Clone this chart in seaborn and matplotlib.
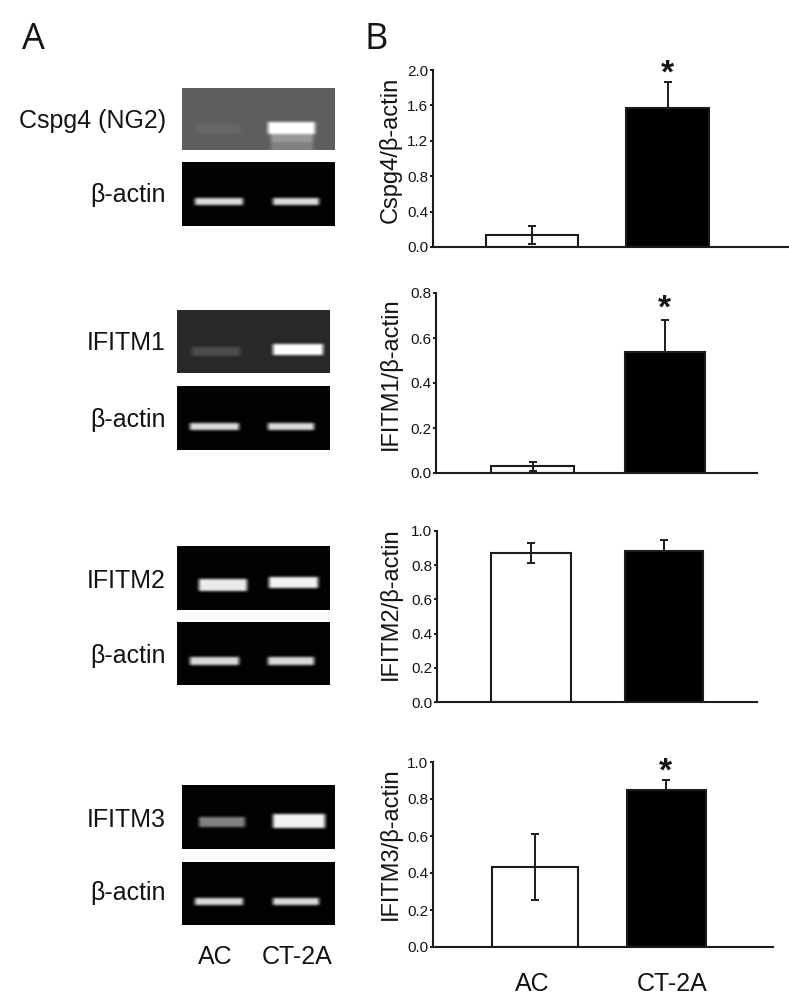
import numpy as np
import pandas as pd
import matplotlib
matplotlib.use("Agg")
import matplotlib.pyplot as plt
import seaborn as sns

W, H = 789, 1008

# bar panels, values
groups = ["AC", "CT-2A"]
panel_names = ["Cspg4/β-actin", "IFITM1/β-actin", "IFITM2/β-actin", "IFITM3/β-actin"]
mean_ac = [0.136, 0.033, 0.874, 0.432]
mean_ct = [1.566, 0.536, 0.882, 0.847]
err_low_ac = [0.03, 0.01, 0.81, 0.252]
err_high_ac = [0.234, 0.05, 0.93, 0.613]
err_high_ct = [1.864, 0.679, 0.95, 0.905]
y_max = [2.0, 0.8, 1.0, 1.0]
y_ticks = [
    [0.0, 0.4, 0.8, 1.2, 1.6, 2.0],
    [0.0, 0.2, 0.4, 0.6, 0.8],
    [0.0, 0.2, 0.4, 0.6, 0.8, 1.0],
    [0.0, 0.2, 0.4, 0.6, 0.8, 1.0],
]

# gel brightness (0 black, 1 white), estimated by eye
gel_names = ["Cspg4 (NG2)", "β-actin", "IFITM1", "β-actin", "IFITM2", "β-actin", "IFITM3", "β-actin"]
gel_background = [0.37, 0.01, 0.16, 0.01, 0.01, 0.01, 0.01, 0.01]
gel_ac_level = [0.41, 0.85, 0.30, 0.85, 0.92, 0.85, 0.50, 0.85]
gel_ct_level = [1.0, 0.85, 1.0, 0.85, 0.95, 0.85, 0.95, 0.85]

# layout in pixels of the reference
panel_boxes = [  # left, top, right, bottom
    (433, 70, 788, 247),
    (436, 293, 757, 473),
    (437, 531, 757, 702),
    (433, 762, 773, 947),
]
bar_edges = [  # white left/right, black left/right
    (486, 578, 626, 709),
    (491, 574, 625, 705),
    (491, 571, 625, 703),
    (492, 578, 627, 706),
]
gel_boxes = [
    (182, 88, 335, 150),
    (182, 162, 335, 226),
    (177, 310, 330, 373),
    (177, 386, 330, 450),
    (177, 546, 330, 610),
    (177, 622, 330, 685),
    (182, 785, 335, 849),
    (182, 862, 335, 925),
]
ac_boxes = [
    (197, 125, 240, 133),
    (195, 198, 243, 205),
    (192, 347, 240, 356),
    (190, 423, 239, 430),
    (199, 579, 247, 591),
    (190, 657, 239, 665),
    (199, 817, 245, 827),
    (195, 898, 243, 905),
]
ct_boxes = [
    (268, 122, 315, 134),
    (273, 198, 319, 205),
    (273, 344, 323, 355),
    (268, 423, 314, 430),
    (269, 577, 318, 588),
    (268, 657, 314, 665),
    (273, 814, 325, 828),
    (273, 898, 319, 905),
]
gel_label_y = [121, 195, 343, 420, 581, 656, 820, 893]
ylabel_y = [150, 374, 604, 844]
star_xy = [(667, 65), (664, 300), None, (665, 763)]

sns.set_theme(style="ticks")
plt.rcParams["font.family"] = ["Liberation Sans", "DejaVu Sans"]
text_color = "#141414"


def px_axes(fig, box):
    left, top, right, bottom = box
    return fig.add_axes([left / W, 1 - bottom / H, (right - left) / W, (bottom - top) / H])


def px_text(fig, x, y, s, **kw):
    fig.text(x / W, 1 - y / H, s, color=text_color, **kw)


def soften(grid):
    # the gel photos are blurry, so spread each band a little
    across = np.array([1, 2, 3, 3, 3, 2, 1]) / 15
    down = np.array([1, 2, 3, 2, 1]) / 9
    pad = np.pad(grid, 3, mode="edge")
    pad = np.apply_along_axis(lambda r: np.convolve(r, down, mode="same"), 0, pad)
    pad = np.apply_along_axis(lambda r: np.convolve(r, across, mode="same"), 1, pad)
    return pad[3:-3, 3:-3]


def draw_gel(fig, i):
    box = gel_boxes[i]
    left, top, right, bottom = box
    grid = np.full((bottom - top, right - left), gel_background[i])
    for band, level in ((ac_boxes[i], gel_ac_level[i]), (ct_boxes[i], gel_ct_level[i])):
        x0, y0, x1, y1 = band
        grid[y0 - top:y1 - top, x0 - left:x1 - left] = level
    if i == 0:
        # haze under the strong NG2 band
        grid[134 - top:142 - top, 271 - left:313 - left] = 0.6
        grid[142 - top:, 271 - left:313 - left] = 0.5
    ax = px_axes(fig, box)
    sns.heatmap(soften(grid), vmin=0, vmax=1, cmap="gray", cbar=False,
                xticklabels=False, yticklabels=False, ax=ax)
    px_text(fig, 166, gel_label_y[i], gel_names[i], fontsize=18, ha="right", va="center")


def draw_panel(fig, i):
    box = panel_boxes[i]
    left, top, right, bottom = box
    ax = px_axes(fig, box)
    df = pd.DataFrame({"group": groups, "value": [mean_ac[i], mean_ct[i]]})
    sns.barplot(data=df, x="group", y="value", hue="group", palette=["white", "black"],
                edgecolor="#1c1c1c", linewidth=1.5, legend=False, ax=ax)

    # bars are not quite the same width in the figure, so set them from the pixel edges
    w0, w1, b0, b1 = bar_edges[i]
    c0, c1 = (w0 + w1) / 2, (b0 + b1) / 2
    unit = c1 - c0
    ax.set_xlim((left - c0) / unit, (right - c0) / unit)
    for pos, patch, width in zip([0, 1], ax.patches, [w1 - w0, b1 - b0]):
        patch.set_width(width / unit)
        patch.set_x(pos - width / unit / 2)

    # the black bar only shows its upper whisker
    means = np.array([mean_ac[i], mean_ct[i]])
    below = [mean_ac[i] - err_low_ac[i], 0]
    above = [err_high_ac[i] - mean_ac[i], err_high_ct[i] - mean_ct[i]]
    ax.errorbar([0, 1], means, yerr=[below, above], fmt="none",
                ecolor="#1c1c1c", elinewidth=1.4, capsize=3, capthick=1.4, zorder=5)

    ax.set_ylim(0, y_max[i])
    ax.set_yticks(y_ticks[i])
    ax.set_yticklabels([f"{t:.1f}" for t in y_ticks[i]], fontsize=11, color=text_color)
    ax.tick_params(axis="y", length=2.5, width=1.4, pad=1, color="#1c1c1c")
    ax.set_xticks([])
    ax.set_xlabel("")
    ax.set_ylabel(panel_names[i], fontsize=17, color=text_color)
    ax.yaxis.set_label_coords((402 - left) / (right - left), (bottom - ylabel_y[i]) / (bottom - top))
    sns.despine(ax=ax)
    for side in ("left", "bottom"):
        ax.spines[side].set_linewidth(1.5)
        ax.spines[side].set_color("#1c1c1c")

    if star_xy[i] is not None:
        x, y = star_xy[i]
        px_text(fig, x, y + 9, "*", fontsize=24, fontweight="bold", ha="center", va="center")


fig = plt.figure(figsize=(W / 100, H / 100), dpi=100)

for i in range(len(gel_names)):
    draw_gel(fig, i)
for i in range(len(panel_names)):
    draw_panel(fig, i)

px_text(fig, 33, 40, "A", fontsize=26, family="Open Sans", ha="center", va="center")
px_text(fig, 376, 40, "B", fontsize=26, family="Open Sans", ha="center", va="center")

for x, label in zip([215, 297], groups):
    px_text(fig, x, 957, label, fontsize=18, ha="center", va="center")
for x, label in zip([532, 672], groups):
    px_text(fig, x, 984, label, fontsize=18, ha="center", va="center")

fig.savefig("out.png", dpi=100, facecolor="white")
